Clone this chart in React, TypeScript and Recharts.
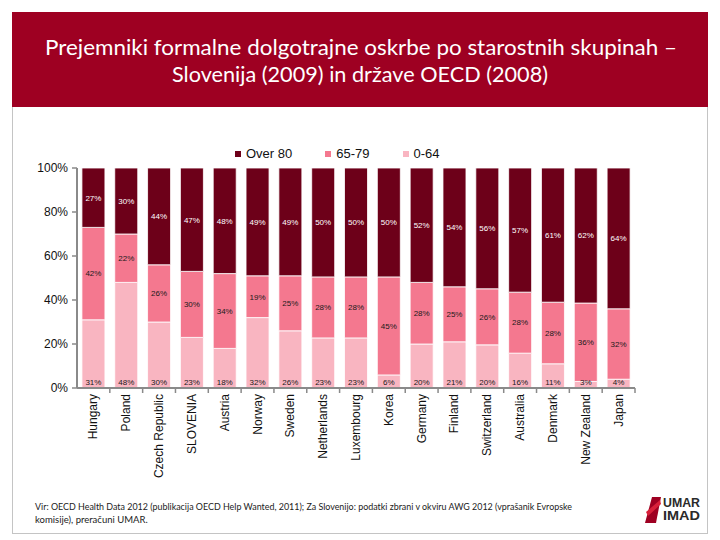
import React from 'react';
import { BarChart, Bar, XAxis, YAxis, LabelList } from 'recharts';

// categories + shares per age group (%)
const countries = [
  'Hungary', 'Poland', 'Czech Republic', 'SLOVENIA', 'Austria', 'Norway', 'Sweden',
  'Netherlands', 'Luxembourg', 'Korea', 'Germany', 'Finland', 'Switzerland',
  'Australia', 'Denmark', 'New Zealand', 'Japan',
];
const over80 = [27, 30, 44, 47, 48, 49, 49, 50, 50, 50, 52, 54, 56, 57, 61, 62, 64];
const age6579 = [42, 22, 26, 30, 34, 19, 25, 28, 28, 45, 28, 25, 26, 28, 28, 36, 32];
const age064 = [31, 48, 30, 23, 18, 32, 26, 23, 23, 6, 20, 21, 20, 16, 11, 3, 4];
const yTicks = [0, 0.2, 0.4, 0.6, 0.8, 1];

const seriesNames = ['Over 80', '65-79', '0-64'];
const seriesColors = ['#6d0019', '#f4788f', '#f9b5c1'];

const data = countries.map((name, i) => ({
  name,
  over80: over80[i],
  a6579: age6579[i],
  a064: age064[i],
}));

const CHART_W = 720;
const CHART_H = 400;
const Y_AXIS_W = 77;
const MARGIN = { top: 48, right: 85, bottom: 52, left: 0 };
const BAND = (CHART_W - Y_AXIS_W - MARGIN.left - MARGIN.right) / countries.length;

const FONT = "'Liberation Sans', Arial, sans-serif";
const pct = (v: any) => `${v}%`;

const CountryTick = (props: any) => {
  const { x, y, payload, index } = props;
  const tx = x + 4;
  const ty = y + 6;
  return (
    <g>
      {index > 0 && (
        <line x1={x - BAND / 2} x2={x - BAND / 2} y1={y} y2={y + 5} stroke="#8a8a8a" strokeWidth={1.5} />
      )}
      {index === countries.length - 1 && (
        <line x1={x + BAND / 2} x2={x + BAND / 2} y1={y} y2={y + 5} stroke="#8a8a8a" strokeWidth={1.5} />
      )}
      <text
        x={tx}
        y={ty}
        transform={`rotate(-90, ${tx}, ${ty})`}
        textAnchor="end"
        fontSize={12}
        fontFamily={FONT}
        fill="#111"
      >
        {payload.value}
      </text>
    </g>
  );
};

const Legend = () => (
  <div
    style={{
      position: 'absolute',
      left: 235,
      top: 145,
      display: 'flex',
      alignItems: 'center',
      fontFamily: FONT,
      fontSize: 13,
      color: '#111',
      lineHeight: '18px',
    }}
  >
    {seriesNames.map((n, i) => (
      <div key={n} style={{ display: 'flex', alignItems: 'center', marginRight: 33 }}>
        <span style={{ width: 6, height: 6, background: seriesColors[i], marginRight: 5, display: 'inline-block' }} />
        <span>{n}</span>
      </div>
    ))}
  </div>
);

export default function App() {
  return (
    <div style={{ position: 'absolute', left: 0, top: 0, width: 720, height: 540, background: '#fff', overflow: 'hidden' }}>
      {/* title banner */}
      <div style={{ position: 'absolute', left: 12, top: 12, width: 696, height: 95, background: '#9e0022' }} />
      <svg width={720} height={540} style={{ position: 'absolute', left: 0, top: 0 }}>
        <text x={361} y={55} textAnchor="middle" fontFamily="Lato, 'Open Sans', sans-serif" fontSize={21} fill="#fff"
          textLength={632} lengthAdjust="spacingAndGlyphs">
          Prejemniki formalne dolgotrajne oskrbe po starostnih skupinah –
        </text>
        <text x={360} y={82} textAnchor="middle" fontFamily="Lato, 'Open Sans', sans-serif" fontSize={21} fill="#fff"
          textLength={376} lengthAdjust="spacingAndGlyphs">
          Slovenija (2009) in države OECD (2008)
        </text>
        {/* panel frame */}
        <line x1={12.5} x2={12.5} y1={107} y2={533} stroke="#c4c4c4" />
        <line x1={707.5} x2={707.5} y1={107} y2={533} stroke="#c4c4c4" />
        <line x1={12} x2={708} y1={533.5} y2={533.5} stroke="#c4c4c4" />
        {/* source */}
        <text x={35} y={510} fontFamily="Lato, 'Open Sans', sans-serif" fontSize={9.5} fill="#222"
          textLength={537} lengthAdjust="spacingAndGlyphs">
          Vir: OECD Health Data 2012 (publikacija OECD Help Wanted, 2011); Za Slovenijo: podatki zbrani v okviru AWG 2012 (vprašanik Evropske
        </text>
        <text x={35} y={523} fontFamily="Lato, 'Open Sans', sans-serif" fontSize={9.5} fill="#222">
          komisije), preračuni UMAR.
        </text>
        {/* logo */}
        <polygon points="652,497 661,497 656,523 645,523" fill="#9e0022" />
        <polygon points="646,512 660,500 661,504 648,516" fill="#d8203a" />
        <text x={663} y={507} fontFamily="'Liberation Sans Narrow', 'Liberation Sans', sans-serif" fontWeight="bold"
          fontSize={12} fill="#2a2a2a" textLength={37} lengthAdjust="spacingAndGlyphs">UMAR</text>
        <text x={663} y={520} fontFamily="'Liberation Sans Narrow', 'Liberation Sans', sans-serif" fontWeight="bold"
          fontSize={12} fill="#2a2a2a" textLength={37} lengthAdjust="spacingAndGlyphs">IMAD</text>
      </svg>

      <Legend />

      <div style={{ position: 'absolute', left: 0, top: 120 }}>
        <BarChart width={CHART_W} height={CHART_H} data={data} margin={MARGIN} stackOffset="expand" barCategoryGap="15%">
          <XAxis
            dataKey="name"
            interval={0}
            height={80}
            tickLine={false}
            tickSize={0}
            tickMargin={0}
            axisLine={{ stroke: '#8a8a8a', strokeWidth: 2 }}
            tick={(p: any) => <CountryTick {...p} />}
          />
          <YAxis
            width={Y_AXIS_W}
            domain={[0, 1]}
            ticks={yTicks}
            tickFormatter={(v: number) => `${Math.round(v * 100)}%`}
            tickSize={5}
            tickMargin={4}
            axisLine={{ stroke: '#8a8a8a', strokeWidth: 2 }}
            tickLine={{ stroke: '#8a8a8a', strokeWidth: 1.5 }}
            tick={{ fontSize: 12, fontFamily: FONT, fill: '#111' }}
          />
          <Bar dataKey="a064" name={seriesNames[2]} stackId="s" fill={seriesColors[2]} stroke="#fff" strokeWidth={0.8} isAnimationActive={false}>
            <LabelList dataKey="a064" position="insideBottom" offset={3} formatter={pct} fontSize={8} fontFamily={FONT} fill="#1a1a1a" />
          </Bar>
          <Bar dataKey="a6579" name={seriesNames[1]} stackId="s" fill={seriesColors[1]} stroke="#fff" strokeWidth={0.8} isAnimationActive={false}>
            <LabelList dataKey="a6579" position="center" formatter={pct} fontSize={8} fontFamily={FONT} fill="#1a1a1a" />
          </Bar>
          <Bar dataKey="over80" name={seriesNames[0]} stackId="s" fill={seriesColors[0]} stroke="#fff" strokeWidth={0.8} isAnimationActive={false}>
            <LabelList dataKey="over80" position="center" formatter={pct} fontSize={8} fontFamily={FONT} fill="#fff" />
          </Bar>
        </BarChart>
      </div>
    </div>
  );
}
